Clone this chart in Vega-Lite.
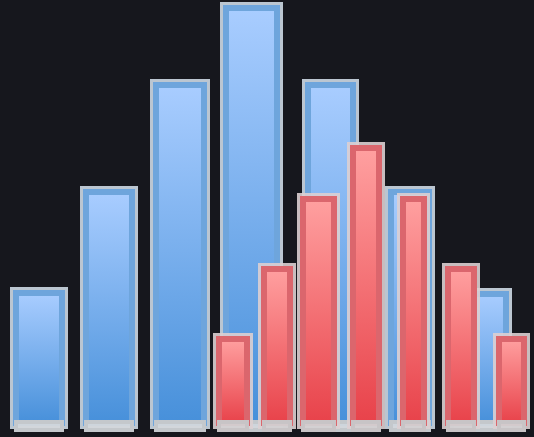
{
  "$schema": "https://vega.github.io/schema/vega-lite/v6.json",
  "width": 534,
  "height": 437,
  "autosize": {"type": "fit", "contains": "padding"},
  "padding": 0,
  "background": "#16171d",
  "config": {"view": {"stroke": null}},
  "data": {
    "values": [
      {"series": "blue", "bin_start": 16, "bin_end": 62, "count": 130},
      {"series": "blue", "bin_start": 86, "bin_end": 132, "count": 231},
      {"series": "blue", "bin_start": 156, "bin_end": 204, "count": 338},
      {"series": "blue", "bin_start": 226, "bin_end": 277, "count": 415},
      {"series": "blue", "bin_start": 308, "bin_end": 353, "count": 338},
      {"series": "blue", "bin_start": 391, "bin_end": 429, "count": 231},
      {"series": "blue", "bin_start": 460, "bin_end": 506, "count": 129},
      {"series": "red", "bin_start": 219, "bin_end": 247, "count": 84},
      {"series": "red", "bin_start": 264, "bin_end": 290, "count": 154},
      {"series": "red", "bin_start": 303, "bin_end": 334, "count": 224},
      {"series": "red", "bin_start": 353, "bin_end": 379, "count": 275},
      {"series": "red", "bin_start": 403, "bin_end": 424, "count": 224},
      {"series": "red", "bin_start": 448, "bin_end": 474, "count": 154},
      {"series": "red", "bin_start": 499, "bin_end": 524, "count": 84}
    ]
  },
  "encoding": {
    "x": {"field": "bin_start", "type": "quantitative", "scale": {"domain": [0, 534], "nice": false, "zero": false}, "axis": null},
    "x2": {"field": "bin_end"},
    "y": {"field": "count", "type": "quantitative", "scale": {"domain": [-14, 423], "nice": false, "zero": false}, "axis": null},
    "y2": {"datum": 0}
  },
  "layer": [
    {
      "transform": [{"filter": "datum.series === 'blue'"}],
      "mark": {"type": "bar", "fill": null, "fillOpacity": 0, "stroke": "#cdd9e6", "strokeOpacity": 0.9, "strokeWidth": 12}
    },
    {
      "transform": [{"filter": "datum.series === 'blue'"}],
      "mark": {
        "type": "bar",
        "fill": {"gradient": "linear", "x1": 0, "y1": 0, "x2": 0, "y2": 1, "stops": [{"offset": 0, "color": "#a9cdff"}, {"offset": 1, "color": "#4790da"}]},
        "stroke": "#6ea5dc",
        "strokeWidth": 6
      }
    },
    {
      "transform": [{"filter": "datum.series === 'blue'"}],
      "mark": {"type": "bar", "fill": "#d3d7db", "fillOpacity": 0.95, "stroke": "#c4c8cc", "strokeWidth": 4},
      "encoding": {"y": {"datum": 1}, "y2": {"datum": -7}}
    },
    {
      "transform": [{"filter": "datum.series === 'red'"}],
      "mark": {"type": "bar", "fill": null, "fillOpacity": 0, "stroke": "#dccfd1", "strokeOpacity": 0.9, "strokeWidth": 12}
    },
    {
      "transform": [{"filter": "datum.series === 'red'"}],
      "mark": {
        "type": "bar",
        "fill": {"gradient": "linear", "x1": 0, "y1": 0, "x2": 0, "y2": 1, "stops": [{"offset": 0, "color": "#ffa0a0"}, {"offset": 1, "color": "#e8424a"}]},
        "stroke": "#db666d",
        "strokeWidth": 6
      }
    },
    {
      "transform": [{"filter": "datum.series === 'red'"}],
      "mark": {"type": "bar", "fill": "#d3d0d2", "fillOpacity": 0.95, "stroke": "#c8c4c6", "strokeWidth": 4},
      "encoding": {"y": {"datum": 1}, "y2": {"datum": -7}}
    }
  ]
}
